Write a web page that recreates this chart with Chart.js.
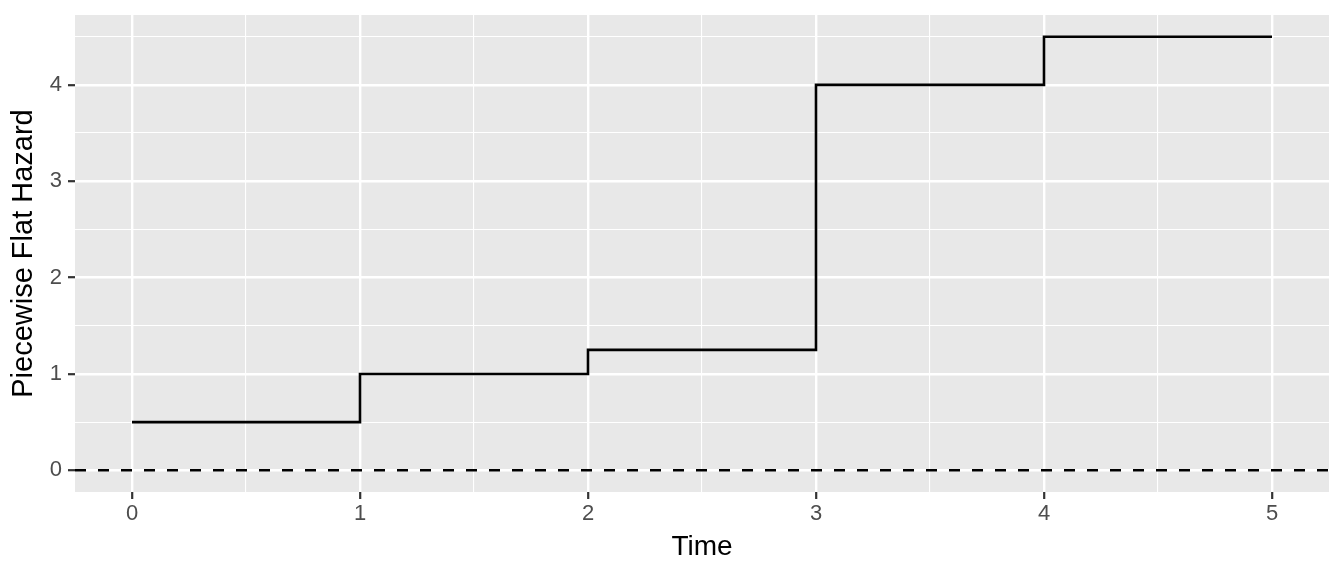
<!DOCTYPE html>
<html>
<head>
<meta charset="utf-8">
<script src="https://cdn.jsdelivr.net/npm/chart.js@4/dist/chart.umd.min.js"></script>
<style>
  body { margin: 0; background: #fff; }
</style>
</head>
<body>
<canvas id="myChart" width="1344" height="576"></canvas>
<script>
'use strict';

// ---------- data ----------
var breaks = [0, 1, 2, 3, 4, 5];
var rates = [0.5, 1, 1.25, 4, 4.5];
var refLevel = 0;

var xRange = [-0.25, 5.25];
var yRange = [-0.225, 4.725];
var xMajor = [0, 1, 2, 3, 4, 5];
var xMinor = [0.5, 1.5, 2.5, 3.5, 4.5];
var yMajor = [0, 1, 2, 3, 4];
var yMinor = [0.5, 1.5, 2.5, 3.5, 4.5];

var FONT = '"Liberation Sans", Arial, Helvetica, sans-serif';

// step points: each break gets the rate of the interval it starts, last one keeps the last rate
var stepPoints = [];
for (var i = 0; i < breaks.length; i++) {
  stepPoints.push({ x: breaks[i], y: rates[Math.min(i, rates.length - 1)] });
}
var refPoints = [{ x: xRange[0], y: refLevel }, { x: xRange[1], y: refLevel }];

function isMajor(list, v) {
  return list.some(function (m) { return Math.abs(m - v) < 1e-9; });
}

function setTicks(major, minor) {
  return function (scale) {
    var all = major.concat(minor).sort(function (a, b) { return a - b; });
    scale.ticks = all.map(function (v) { return { value: v }; });
  };
}

function gridOpts(major) {
  return {
    color: '#ffffff',
    lineWidth: function (ctx) {
      return ctx.tick && isMajor(major, ctx.tick.value) ? 2.4 : 1.1;
    },
    drawTicks: true,
    tickLength: 7,
    tickWidth: 2.2,
    tickColor: function (ctx) {
      return ctx.tick && isMajor(major, ctx.tick.value) ? '#333333' : 'rgba(0,0,0,0)';
    }
  };
}

// panel background
var panelBg = {
  id: 'panelBg',
  beforeDraw: function (chart) {
    var a = chart.chartArea;
    var c = chart.ctx;
    c.save();
    c.fillStyle = '#e8e8e8';
    c.fillRect(a.left, a.top, a.right - a.left, a.bottom - a.top);
    c.restore();
  }
};

var ctx = document.getElementById('myChart').getContext('2d');
var chart = new Chart(ctx, {
  type: 'scatter',
  data: {
    datasets: [
      {
        label: 'hazard',
        data: stepPoints,
        showLine: true,
        stepped: true,
        borderColor: '#000000',
        borderWidth: 2.6,
        borderCapStyle: 'butt',
        pointRadius: 0,
        fill: false
      },
      {
        label: 'zero',
        data: refPoints,
        showLine: true,
        borderColor: '#000000',
        borderWidth: 2.6,
        borderDash: [11, 12],
        borderCapStyle: 'butt',
        pointRadius: 0,
        fill: false
      }
    ]
  },
  options: {
    responsive: false,
    animation: false,
    layout: { padding: { left: 0, top: 15, right: 15, bottom: 0 } },
    plugins: { legend: { display: false }, tooltip: { enabled: false } },
    scales: {
      x: {
        type: 'linear',
        min: xRange[0],
        max: xRange[1],
        afterBuildTicks: setTicks(xMajor, xMinor),
        afterFit: function (scale) {
          scale.height = 84;
          scale.paddingLeft = 0;
          scale.paddingRight = 0;
        },
        border: { display: false },
        grid: gridOpts(xMajor),
        ticks: {
          autoSkip: false,
          maxRotation: 0,
          padding: 2,
          color: '#4d4d4d',
          font: { family: FONT, size: 22 },
          callback: function (v) { return isMajor(xMajor, v) ? String(v) : ''; }
        },
        title: {
          display: true,
          text: 'Time',
          color: '#000000',
          font: { family: FONT, size: 28, lineHeight: 1.2 },
          padding: { top: 0, bottom: 12 }
        }
      },
      y: {
        type: 'linear',
        min: yRange[0],
        max: yRange[1],
        afterBuildTicks: setTicks(yMajor, yMinor),
        afterFit: function (scale) {
          scale.width = 75;
          scale.paddingTop = 0;
          scale.paddingBottom = 0;
        },
        border: { display: false },
        grid: gridOpts(yMajor),
        ticks: {
          autoSkip: false,
          padding: 6,
          color: '#4d4d4d',
          font: { family: FONT, size: 22 },
          callback: function (v) { return isMajor(yMajor, v) ? String(v) : ''; }
        },
        title: {
          display: true,
          text: 'Piecewise Flat Hazard',
          color: '#000000',
          font: { family: FONT, size: 29, lineHeight: 1.2 },
          padding: { top: 7, bottom: 0 }
        }
      }
    }
  },
  plugins: [panelBg]
});
</script>
</body>
</html>
